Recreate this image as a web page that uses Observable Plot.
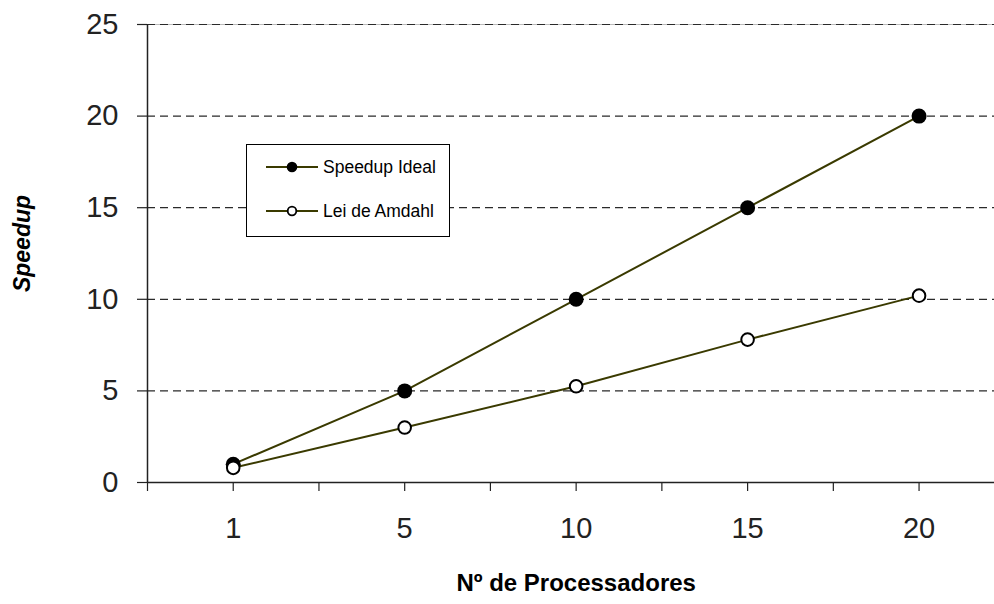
<!DOCTYPE html>
<html>
<head>
<meta charset="utf-8">
<script src="https://cdn.jsdelivr.net/npm/d3@7"></script>
<script src="https://cdn.jsdelivr.net/npm/@observablehq/plot@0.6"></script>
<style>
  html, body { margin: 0; padding: 0; background: #fff; }
  #wrap { position: relative; width: 994px; height: 604px; overflow: hidden; font-family: "Liberation Sans", Arial, sans-serif; }
  #legend { position: absolute; left: 246px; top: 144px; width: 204px; height: 93px; border: 1px solid #000; background: #fff; box-sizing: border-box; }
</style>
</head>
<body>
<div id="wrap"><div id="legend"></div></div>
<script>
// ---- data ----
const categories = ["1", "5", "10", "15", "20"];
const idealSpeedup = [1, 5, 10, 15, 20];
const amdahlSpeedup = [0.8, 3.0, 5.25, 7.8, 10.2];
const seriesNames = ["Speedup Ideal", "Lei de Amdahl"];
const yTicks = [0, 5, 10, 15, 20, 25];
const xTitle = "Nº de Processadores";
const yTitle = "Speedup";

const lineColor = "#3a3a00";

const ideal = categories.map((c, i) => ({i, cat: c, v: idealSpeedup[i], s: seriesNames[0]}));
const amdahl = categories.map((c, i) => ({i, cat: c, v: amdahlSpeedup[i], s: seriesNames[1]}));

// tick positions at category centres and boundaries
const xTickPos = [];
for (let k = -1; k <= 2 * categories.length - 1; k++) xTickPos.push(k / 2);

const chart = Plot.plot({
  width: 994,
  height: 604,
  marginLeft: 147,
  marginRight: 0,
  marginTop: 24,
  marginBottom: 122,
  style: {fontFamily: "'Liberation Sans', Arial, sans-serif", fontSize: "29px", color: "#222", background: "transparent"},
  x: {type: "linear", domain: [-0.5, 4.44]},
  y: {domain: [0, 25]},
  marks: [
    Plot.ruleY([25], {stroke: "#bbb", strokeWidth: 1.2}),
    Plot.ruleY(yTicks.filter(d => d > 0), {stroke: "#2a2a2a", strokeWidth: 1.2, strokeDasharray: "8,5"}),
    Plot.axisY({ticks: yTicks, tickSize: 10, tickPadding: 19, tickFormat: d => String(d), label: null, strokeWidth: 1.2}),
    Plot.axisX({ticks: xTickPos, tickSize: 9, tickPadding: 26, label: null, strokeWidth: 1.2,
      tickFormat: d => Number.isInteger(d) && d >= 0 && d < categories.length ? categories[d] : ""}),
    Plot.ruleX([-0.5], {stroke: "#222", strokeWidth: 1.5}),
    Plot.ruleY([0], {stroke: "#222", strokeWidth: 1.5}),
    Plot.line(ideal, {x: "i", y: "v", stroke: lineColor, strokeWidth: 2}),
    Plot.line(amdahl, {x: "i", y: "v", stroke: lineColor, strokeWidth: 2}),
    Plot.dot(ideal, {x: "i", y: "v", r: 7.5, fill: "#000", stroke: "none"}),
    Plot.dot(amdahl, {x: "i", y: "v", r: 6.3, fill: "#fff", stroke: "#000", strokeWidth: 2}),
    Plot.text([xTitle], {x: [2], frameAnchor: "bottom", textAnchor: "middle", dy: 108, fontSize: 24, fontWeight: "bold", fill: "#000", letterSpacing: "0.7px"}),
    Plot.text([yTitle], {frameAnchor: "left", textAnchor: "middle", rotate: -90, dx: -125, dy: -10, fontSize: 23, fontWeight: "bold", fontStyle: "italic", fill: "#000"})
  ]
});
chart.style.position = "absolute";
chart.style.left = "0px";
chart.style.top = "0px";
const wrap = document.getElementById("wrap");
wrap.insertBefore(chart, wrap.firstChild);

// ---- legend ----
const leg = d3.select("#legend").append("svg").attr("width", 202).attr("height", 91)
  .style("position", "absolute").style("left", "0px").style("top", "0px");
const rows = [{name: seriesNames[0], filled: true, y: 22}, {name: seriesNames[1], filled: false, y: 66}];
rows.forEach(r => {
  leg.append("line").attr("x1", 19).attr("x2", 71).attr("y1", r.y).attr("y2", r.y)
    .attr("stroke", lineColor).attr("stroke-width", 2);
  leg.append("circle").attr("cx", 45).attr("cy", r.y).attr("r", r.filled ? 5.3 : 4.3)
    .attr("fill", r.filled ? "#000" : "#fff").attr("stroke", "#000").attr("stroke-width", r.filled ? 0 : 1.8);
  leg.append("text").attr("x", 76).attr("y", r.y).attr("dy", "0.36em")
    .attr("font-family", "'Liberation Sans', Arial, sans-serif").attr("font-size", 17.5).attr("fill", "#000")
    .text(r.name);
});
</script>
</body>
</html>
